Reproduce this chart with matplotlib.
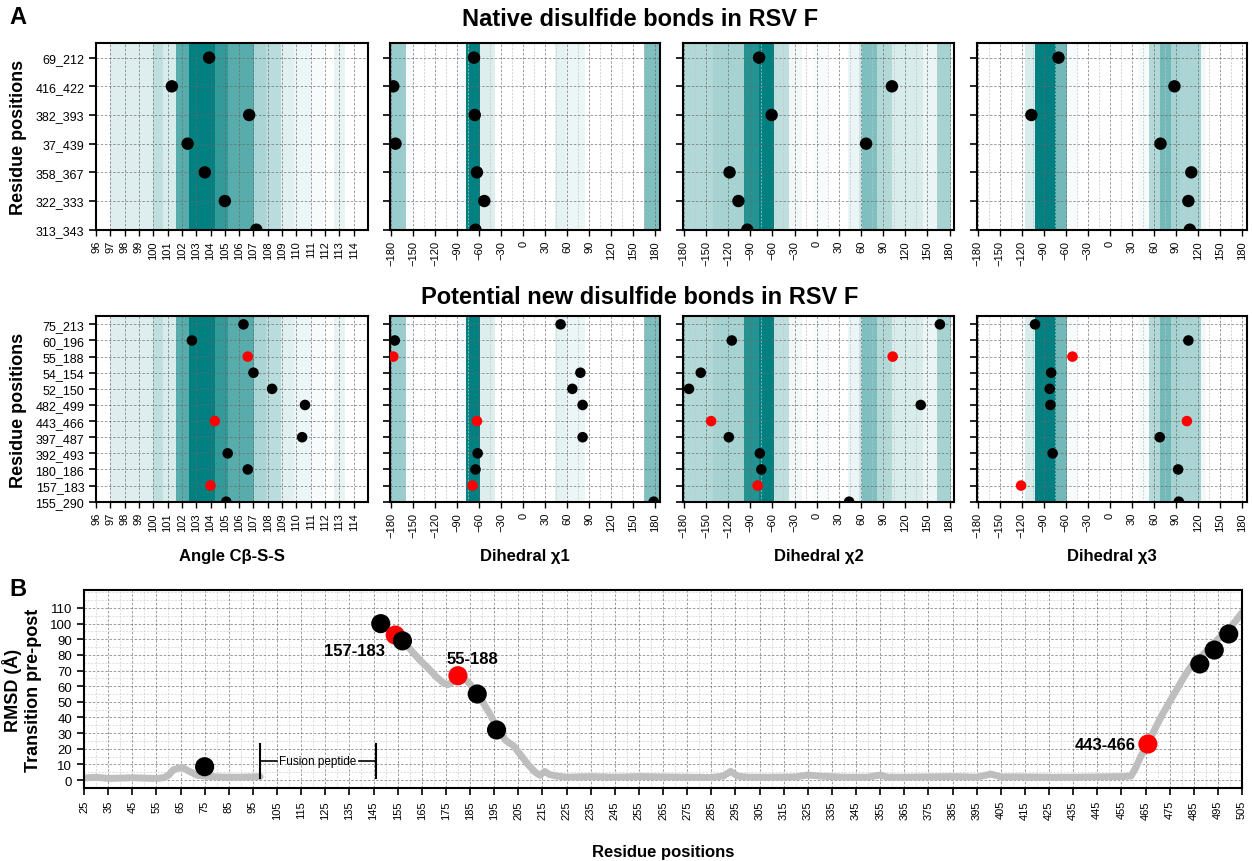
import numpy as np
import matplotlib
matplotlib.use("Agg")
import matplotlib.pyplot as plt
from matplotlib.ticker import MultipleLocator

plt.rcParams['font.family'] = ['Liberation Sans', 'DejaVu Sans']

TEAL = "#008080"

# ---- panel A data ----
native_pairs = ["69_212", "416_422", "382_393", "37_439", "358_367", "322_333", "313_343"]
native_angle = [103.9, 101.3, 106.7, 102.4, 103.6, 105.0, 107.2]
native_chi1 = [-67, -177, -66, -174, -63, -53, -65]
native_chi2 = [-78, 102, -61, 67, -118, -106, -94]
native_chi3 = [-70, 88, -107, 69, 111, 107, 109]

new_pairs = ["75_213", "60_196", "55_188", "54_154", "52_150", "482_499",
             "443_466", "397_487", "392_493", "180_186", "157_183", "155_290"]
new_red = [False, False, True, False, False, False, True, False, False, False, True, False]
new_angle = [106.3, 102.7, 106.6, 107.0, 108.3, 110.6, 104.3, 110.4, 105.2, 106.6, 104.0, 105.1]
new_chi1 = [51, -175, -177, 78, 67, 81, -63, 81, -62, -65, -69, 178]
new_chi2 = [167, -115, 103, -157, -173, 141, -143, -119, -77, -75, -80, 44]
new_chi3 = [-102, 107, -51, -80, -82, -81, 105, 68, -78, 93, -121, 94]

# reference distribution bands: (start, end, intensity)
angle_bands = [(97.0, 100.0, 0.13), (100.0, 100.7, 0.25), (100.7, 101.6, 0.15),
               (101.6, 102.5, 0.65), (102.5, 104.3, 1.0), (104.3, 105.25, 0.8),
               (105.25, 107.05, 0.65), (107.05, 107.9, 0.33), (107.9, 108.95, 0.27),
               (108.95, 109.8, 0.12), (109.8, 111.0, 0.07), (111.0, 111.9, 0.03),
               (112.6, 113.4, 0.09)]
chi1_bands = [(-182, -160, 0.4), (-160, -150, 0.03), (-90, -78, 0.03), (-78, -59, 1.0),
              (-59, -38, 0.13), (43, 59, 0.1), (59, 84, 0.07), (165, 186, 0.5)]
chi2_bands = [(-182, -140, 0.3), (-140, -99, 0.35), (-99, -78, 0.85), (-78, -58, 1.0),
              (-58, -38, 0.25), (-38, -20, 0.05), (-5, 15, 0.03), (42, 58, 0.08),
              (58, 62, 0.2), (62, 82, 0.5), (82, 102, 0.3), (102, 144, 0.15),
              (144, 163, 0.08), (163, 182, 0.35)]
chi3_bands = [(-116, -102, 0.15), (-102, -74, 1.0), (-74, -59, 0.55), (-59, -45, 0.03),
              (39, 54, 0.04), (54, 68, 0.3), (68, 83, 0.55), (83, 95, 0.35),
              (95, 124, 0.33), (124, 131, 0.05)]

# ---- panel B data ----
rmsd_x1 = [25, 30, 35, 40, 45, 50, 55, 58, 60, 62, 64, 66, 68, 70, 72, 75, 80, 85, 90, 95, 98]
rmsd_y1 = [1.3, 1.8, 1.0, 1.2, 1.5, 1.2, 1.0, 1.5, 3.0, 6.5, 7.5, 8.0, 6.0, 4.5, 3.0, 2.5,
           2.0, 1.8, 1.8, 2.0, 2.2]
rmsd_x2 = [148, 152, 156, 160, 164, 168, 171, 174, 176, 178, 181, 184, 188, 191, 194, 197,
           200, 203, 206, 209, 212, 214, 216, 218, 221, 225, 235, 245, 255, 265, 275, 285,
           290, 293, 296, 300, 310, 320, 325, 330, 340, 350, 355, 358, 365, 375, 385, 395,
           401, 405, 415, 425, 435, 445, 455, 459, 461, 463, 466, 469, 472, 475, 478, 481,
           484, 487, 490, 495, 500, 505]
rmsd_y2 = [100, 95, 90, 84, 77, 71, 66, 62, 61, 63, 67, 63, 56, 48, 40, 31, 25, 22, 16, 10,
           5, 3, 5.5, 3.5, 2.5, 1.8, 2.2, 1.8, 2.2, 2.0, 1.8, 1.6, 2.5, 5.5, 2.5, 1.8, 1.8,
           2.0, 3.2, 2.5, 1.8, 1.8, 3.2, 1.8, 1.8, 2.0, 2.2, 1.8, 3.8, 2.0, 2.0, 1.8, 1.8,
           2.0, 2.2, 2.5, 8, 15, 23, 33, 42, 50, 58, 66, 73, 77, 82, 90, 97, 107]
dots_x = [75, 148, 154, 157, 180, 188, 196, 466, 487.5, 493.5, 499.5]
dots_y = [8.5, 100, 92.7, 89, 66.7, 55, 32, 23, 74.2, 83.1, 93.4]
dots_red = [False, False, True, False, True, False, False, True, False, False, False]
dot_labels = [("157-183", 137, 83, "center"), ("55-188", 186, 78, "center"),
              ("443-466", 461, 23, "right")]

fig = plt.figure(figsize=(12.52, 8.62), dpi=100)
W, H = 1252, 862


def px_axes(l, r, t, b):
    return fig.add_axes([l / W, (H - b) / H, (r - l) / W, (b - t) / H])


cols = [(96, 368), (390, 660), (682.7, 954.3), (976.7, 1246.7)]
rows = [(44.3, 230.7), (317.3, 502.7)]


def draw_panel(ax, pairs, vals, red, bands, kind, size, show_labels):
    n = len(pairs)
    ypos = np.arange(n)[::-1]
    for s, e, a in bands:
        ax.axvspan(s, e, color=TEAL, alpha=a, lw=0, zorder=0)
    colors = ["#ff0000" if r else "black" for r in red]
    ax.scatter(vals, ypos, s=size, c=colors, zorder=3, clip_on=True, lw=0)
    if kind == "angle":
        ax.set_xlim(96, 115)
        ax.set_xticks(np.arange(96, 115, 1))
    else:
        ax.set_xlim(-181.5, 186.5)
        ax.set_xticks(np.arange(-180, 181, 30))
        ax.xaxis.set_minor_locator(MultipleLocator(15))
    ax.set_ylim(0, n - 0.5)
    ax.set_yticks(ypos)
    ax.set_yticklabels(pairs if show_labels else [], fontsize=9)
    ax.tick_params(axis='x', labelrotation=90, labelsize=8, length=4, width=1)
    ax.tick_params(axis='y', length=5, width=1.2)
    ax.tick_params(which='minor', length=0)
    ax.grid(True, which='major', ls=(0, (3, 2)), color="#666666", lw=0.6, alpha=0.75)
    ax.grid(True, which='minor', axis='x', ls=(0, (3, 2)), color="#c4c4c4", lw=0.5)
    for sp in ax.spines.values():
        sp.set_linewidth(1.5)
    for gl in ax.get_xgridlines() + ax.get_ygridlines():
        gl.set_zorder(1)


row_data = [
    (native_pairs, [native_angle, native_chi1, native_chi2, native_chi3], [False] * 7, 80),
    (new_pairs, [new_angle, new_chi1, new_chi2, new_chi3], new_red, 58),
]
band_sets = [angle_bands, chi1_bands, chi2_bands, chi3_bands]
kinds = ["angle", "dih", "dih", "dih"]
xlabels = ["Angle Cβ-S-S", "Dihedral χ1", "Dihedral χ2", "Dihedral χ3"]

for ri, (t, b) in enumerate(rows):
    pairs, series, red, size = row_data[ri]
    for ci, (l, r) in enumerate(cols):
        ax = px_axes(l, r, t, b)
        draw_panel(ax, pairs, series[ci], red, band_sets[ci], kinds[ci], size, ci == 0)
        if ci == 0:
            ax.set_ylabel("Residue positions", fontsize=13, fontweight='bold', labelpad=6)
        if ri == 1:
            fig.text((l + r) / 2 / W, 1 - 557 / H, xlabels[ci], ha='center', va='center',
                     fontsize=12, fontweight='bold')

fig.text(640 / W, 1 - 20 / H, "Native disulfide bonds in RSV F", ha='center', va='center',
         fontsize=17, fontweight='bold')
fig.text(640 / W, 1 - 297 / H, "Potential new disulfide bonds in RSV F", ha='center',
         va='center', fontsize=17, fontweight='bold')
fig.text(18 / W, 1 - 18 / H, "A", ha='center', va='center', fontsize=17, fontweight='bold')
fig.text(18 / W, 1 - 590 / H, "B", ha='center', va='center', fontsize=17, fontweight='bold')

# ---- panel B ----
axb = px_axes(84, 1242, 590.7, 789.3)
axb.plot(rmsd_x1, rmsd_y1, color="#bebebe", lw=5, solid_capstyle='round', zorder=2)
axb.plot(rmsd_x2, rmsd_y2, color="#bebebe", lw=5, solid_capstyle='round', zorder=2)
axb.scatter(dots_x, dots_y, s=190, c=["#ff0000" if r else "black" for r in dots_red],
            lw=0, zorder=3)
for txt, x, y, ha in dot_labels:
    axb.text(x, y, txt, ha=ha, va='center', fontsize=12, fontweight='bold', zorder=4)

# fusion peptide bracket
axb.plot([98, 98], [1.3, 23], color="black", lw=1.5, zorder=4)
axb.plot([146, 146], [1.3, 23], color="black", lw=1.5, zorder=4)
axb.plot([98, 105], [12.4, 12.4], color="black", lw=1.2, zorder=4)
axb.plot([139, 146], [12.4, 12.4], color="black", lw=1.2, zorder=4)
axb.text(122, 12.4, "Fusion peptide", ha='center', va='center', fontsize=8.5, zorder=4)

axb.set_xlim(25, 505)
axb.set_ylim(-5.3, 121.7)
axb.set_xticks(np.arange(25, 506, 10))
axb.set_yticks(np.arange(0, 111, 10))
axb.xaxis.set_minor_locator(MultipleLocator(5))
axb.yaxis.set_minor_locator(MultipleLocator(5))
axb.tick_params(axis='x', labelrotation=90, labelsize=8, length=5, width=1.2)
axb.tick_params(axis='y', labelsize=9.5, length=5, width=1.2)
axb.tick_params(which='minor', length=0)
axb.grid(True, which='major', ls=(0, (3, 2)), color="#666666", lw=0.6, alpha=0.75)
axb.grid(True, which='minor', ls=(0, (3, 2)), color="#d0d0d0", lw=0.5)
axb.set_axisbelow(True)
for sp in axb.spines.values():
    sp.set_linewidth(1.5)
axb.set_ylabel("RMSD (Å)\nTransition pre-post", fontsize=13, fontweight='bold', labelpad=6)
axb.set_xlabel("Residue positions", fontsize=12, fontweight='bold', labelpad=18)

fig.savefig("out.png", dpi=100)
